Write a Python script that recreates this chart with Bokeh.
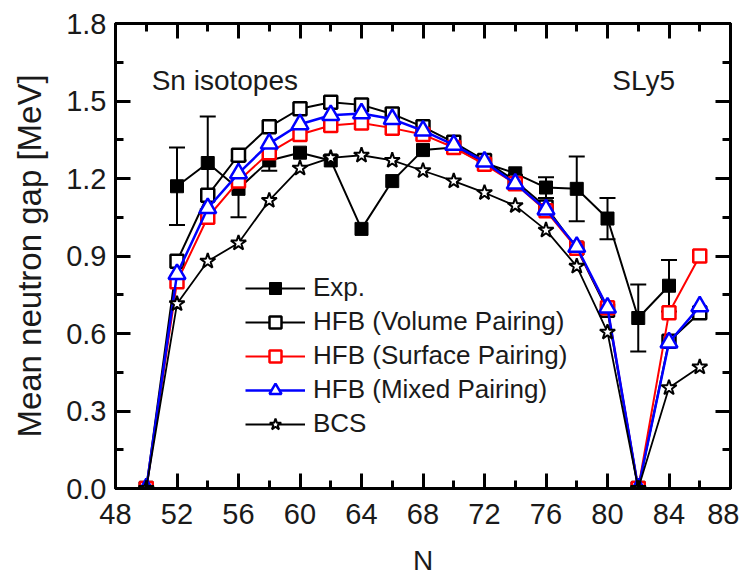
from bokeh.plotting import figure
from bokeh.models import (LinearAxis, Range1d, FixedTicker, Legend, LegendItem,
                          Whisker, TeeHead, ColumnDataSource, Label)
from bokeh.embed import file_html
from bokeh.resources import INLINE

# ---------------- data ----------------
N = [50, 52, 54, 56, 58, 60, 62, 64, 66, 68, 70, 72, 74, 76, 78, 80, 82, 84, 86]
volume = [0, 0.88, 1.135, 1.29, 1.40, 1.47, 1.495, 1.485, 1.45, 1.40, 1.34, 1.27, 1.19, 1.09, 0.93, 0.69, 0, 0.57, 0.68]
surface = [0, 0.80, 1.05, 1.19, 1.30, 1.37, 1.405, 1.415, 1.395, 1.37, 1.32, 1.255, 1.18, 1.075, 0.93, 0.70, 0, 0.68, 0.90]
mixed = [0, 0.83, 1.085, 1.22, 1.335, 1.41, 1.445, 1.452, 1.43, 1.385, 1.33, 1.265, 1.18, 1.08, 0.935, 0.70, 0, 0.565, 0.705]
bcs = [0, 0.715, 0.88, 0.95, 1.115, 1.24, 1.28, 1.29, 1.27, 1.23, 1.19, 1.145, 1.095, 1.0, 0.86, 0.605, 0, 0.39, 0.47]

exp_N = [52, 54, 56, 58, 60, 62, 64, 66, 68, 70, 72, 74, 76, 78, 80, 82, 84]
exp = [1.17, 1.26, 1.16, 1.27, 1.30, 1.27, 1.005, 1.19, 1.31, 1.32, 1.26, 1.22, 1.165, 1.16, 1.045, 0.66, 0.785]
exp_err = [0.15, 0.18, 0.11, 0.04, 0, 0, 0, 0, 0, 0, 0, 0, 0.04, 0.125, 0.08, 0.13, 0.10]

x_ticks = [48, 52, 56, 60, 64, 68, 72, 76, 80, 84, 88]
x_minor = [50, 54, 58, 62, 66, 70, 74, 78, 82, 86]
y_ticks = [0.0, 0.3, 0.6, 0.9, 1.2, 1.5, 1.8]
y_tick_labels = ["0.0", "0.3", "0.6", "0.9", "1.2", "1.5", "1.8"]
y_minor = [0.15, 0.45, 0.75, 1.05, 1.35, 1.65]

labels = ["Exp.", "HFB (Volume Pairing)", "HFB (Surface Pairing)",
          "HFB (Mixed Pairing)", "BCS"]
annotations = ["Sn isotopes", "SLy5"]
x_title = "N"
y_title = "Mean neutron gap [MeV]"

FONT = "Liberation Sans"
TXT = "#1a1a1a"

p = figure(width=739, height=578, x_range=Range1d(48, 88), y_range=Range1d(0, 1.8),
           output_backend="svg", toolbar_location=None,
           min_border_left=115, min_border_right=9, min_border_top=23, min_border_bottom=90)
p.grid.visible = False
p.outline_line_color = "black"
p.outline_line_width = 3
p.background_fill_color = "white"
p.border_fill_color = "white"

def style_axis(ax, show_labels=True):
    ax.axis_line_width = 3
    ax.major_tick_line_width = 3
    ax.minor_tick_line_width = 3
    ax.major_tick_in = 15
    ax.major_tick_out = 0
    ax.minor_tick_in = 8
    ax.minor_tick_out = 0
    ax.major_label_text_font = FONT
    ax.major_label_text_color = TXT
    if show_labels:
        ax.major_label_text_font_size = "29px"
    else:
        ax.major_label_text_font_size = "0px"
        ax.major_label_text_alpha = 0

p.xaxis.ticker = FixedTicker(ticks=x_ticks, minor_ticks=x_minor)
p.yaxis.ticker = FixedTicker(ticks=y_ticks, minor_ticks=y_minor)
p.yaxis.major_label_overrides = {v: s for v, s in zip(y_ticks, y_tick_labels)}
style_axis(p.xaxis[0])
style_axis(p.yaxis[0])
p.xaxis.major_label_standoff = 15
p.yaxis.major_label_standoff = 9

p.xaxis.axis_label = x_title
p.xaxis.axis_label_text_font_size = "28px"
p.xaxis.axis_label_standoff = 18
p.yaxis.axis_label = y_title
p.yaxis.axis_label_text_font_size = "33px"
p.yaxis.axis_label_standoff = 15
for ax in (p.xaxis[0], p.yaxis[0]):
    ax.axis_label_text_font = FONT
    ax.axis_label_text_font_style = "normal"
    ax.axis_label_text_color = TXT

top = LinearAxis(ticker=FixedTicker(ticks=x_ticks, minor_ticks=x_minor))
right = LinearAxis(ticker=FixedTicker(ticks=y_ticks, minor_ticks=y_minor))
style_axis(top, False)
style_axis(right, False)
p.add_layout(top, "above")
p.add_layout(right, "right")

# ---------------- series ----------------
err_idx = [i for i, e in enumerate(exp_err) if e > 0]
err_src = ColumnDataSource(dict(
    x=[exp_N[i] for i in err_idx],
    lower=[exp[i] - exp_err[i] for i in err_idx],
    upper=[exp[i] + exp_err[i] for i in err_idx]))
wh = Whisker(base="x", lower="lower", upper="upper", source=err_src,
             line_color="black", line_width=2,
             upper_head=TeeHead(size=16, line_width=2, line_color="black"),
             lower_head=TeeHead(size=16, line_width=2, line_color="black"))
p.add_layout(wh)

r_exp_l = p.line(exp_N, exp, line_color="black", line_width=2)
r_exp_m = p.scatter(exp_N, exp, marker="square", size=13, fill_color="black",
                    line_color="black", line_width=1)

r_vol_l = p.line(N, volume, line_color="black", line_width=2)
r_vol_m = p.scatter(N, volume, marker="square", size=13, fill_color="white",
                    line_color="black", line_width=2.5)

r_sur_l = p.line(N, surface, line_color="#ff0000", line_width=2)
r_sur_m = p.scatter(N, surface, marker="square", size=13, fill_color="white",
                    line_color="#ff0000", line_width=2.5)

r_mix_l = p.line(N, mixed, line_color="#0000ff", line_width=2.5)
r_mix_m = p.scatter(N, mixed, marker="triangle", size=17, fill_color="white",
                    line_color="#0000ff", line_width=2.5)

r_bcs_l = p.line(N, bcs, line_color="black", line_width=1.8)
r_bcs_m = p.scatter(N, bcs, marker="star", size=16, fill_color="white",
                    line_color="black", line_width=2)

items = [
    LegendItem(label=labels[0], renderers=[r_exp_l, r_exp_m]),
    LegendItem(label=labels[1], renderers=[r_vol_l, r_vol_m]),
    LegendItem(label=labels[2], renderers=[r_sur_l, r_sur_m]),
    LegendItem(label=labels[3], renderers=[r_mix_l, r_mix_m]),
    LegendItem(label=labels[4], renderers=[r_bcs_l, r_bcs_m]),
]
legend = Legend(items=items, location=(130, 49), orientation="vertical")
legend.border_line_color = None
legend.background_fill_alpha = 0
legend.padding = 0
legend.margin = 0
legend.spacing = 3
legend.glyph_width = 60
legend.glyph_height = 30
legend.label_height = 30
legend.label_standoff = 8
legend.label_text_font = FONT
legend.label_text_font_size = "26px"
legend.label_text_color = TXT
p.add_layout(legend, "center")

p.add_layout(Label(x=50.35, y=1.58, text=annotations[0],
                   text_font=FONT, text_font_size="28px", text_color=TXT,
                   text_baseline="middle"))
p.add_layout(Label(x=84.4, y=1.58, text=annotations[1],
                   text_font=FONT, text_font_size="28px", text_color=TXT,
                   text_baseline="middle", text_align="right"))

open("out.html", "w").write(file_html(p, INLINE))
